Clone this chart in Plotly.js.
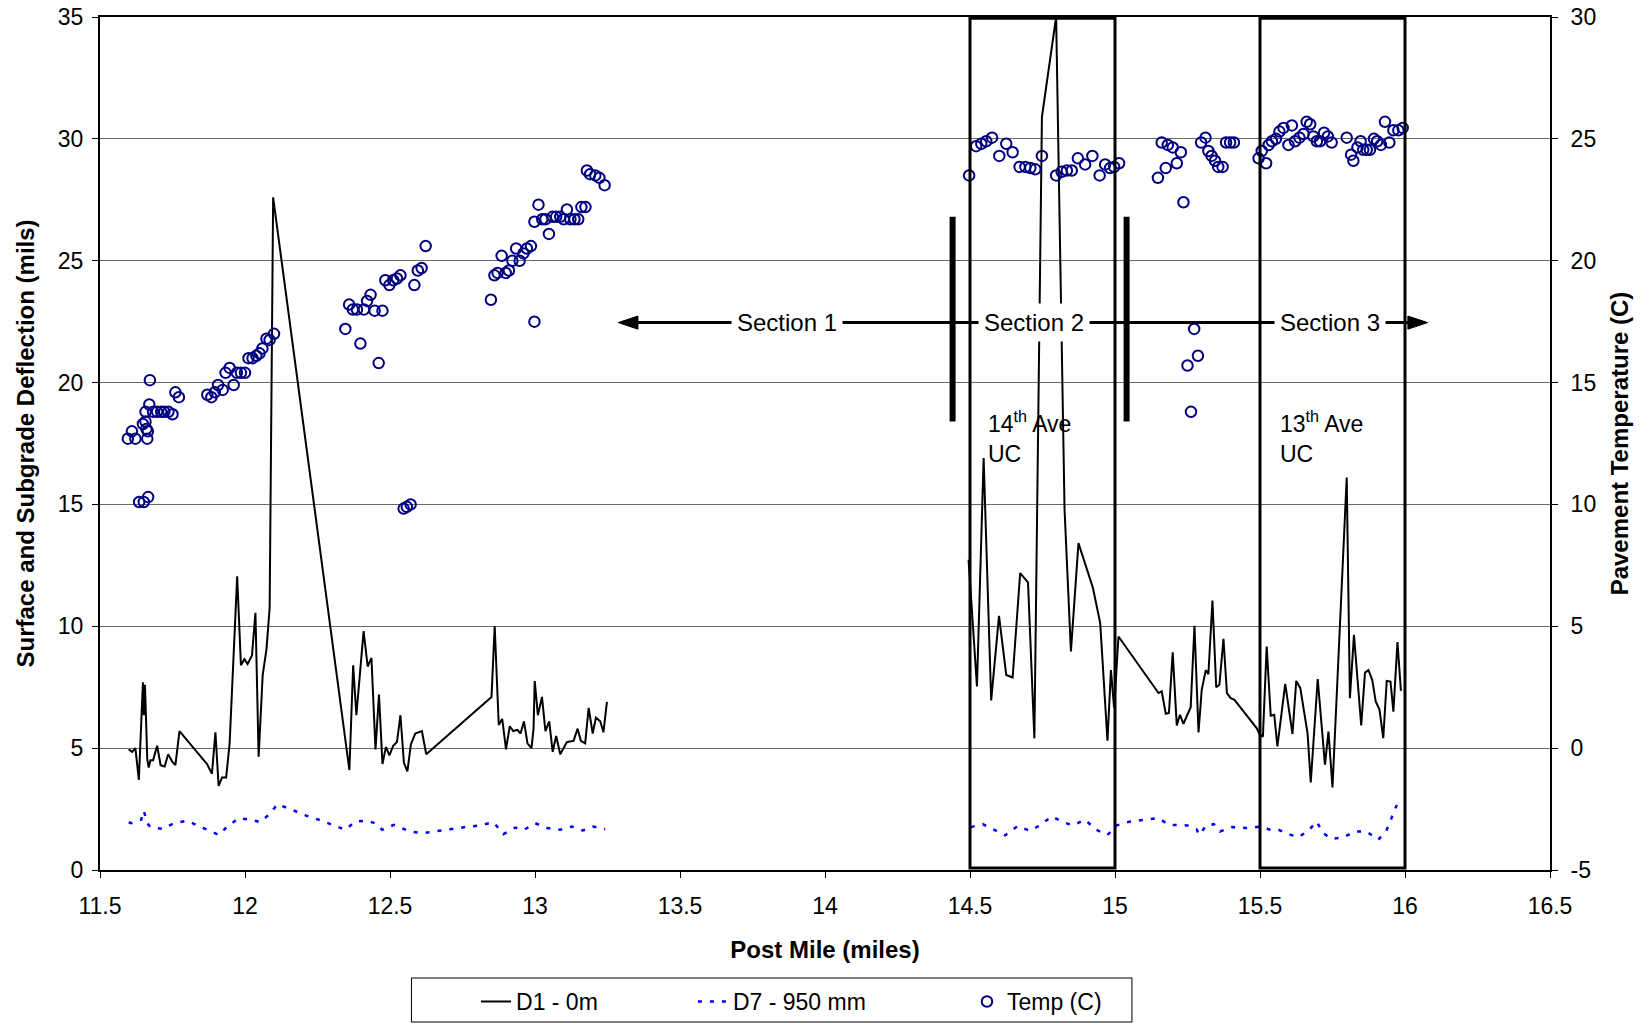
<!DOCTYPE html>
<html>
<head>
<meta charset="utf-8">
<script src="https://cdn.plot.ly/plotly-3.0.1.min.js"></script>
<style>html,body{margin:0;padding:0;background:#fff;}#chart{width:1642px;height:1023px;}</style>
</head>
<body>
<div id="chart"></div>
<script>
// D1 - 0m surface deflection (mils) vs post mile
const d1Mile = [11.599,11.611,11.622,11.634,11.648,11.651,11.655,11.663,11.668,11.674,11.683,11.697,11.709,11.723,11.735,11.749,11.760,11.774,11.869,11.886,11.898,11.909,11.921,11.935,11.947,11.973,11.986,11.998,12.009,12.024,12.036,12.047,12.061,12.074,12.085,12.097,12.360,12.373,12.384,12.409,12.423,12.436,12.450,12.462,12.474,12.486,12.498,12.511,12.524,12.536,12.548,12.560,12.572,12.587,12.610,12.625,12.850,12.861,12.875,12.887,12.900,12.913,12.925,12.939,12.950,12.962,12.974,12.988,12.995,12.999,13.010,13.024,13.036,13.049,13.061,13.073,13.087,13.110,13.133,13.147,13.158,13.173,13.185,13.199,13.210,13.225,13.236,13.248,
  13.8,
  14.495,14.524,14.547,14.573,14.600,14.625,14.647,14.673,14.700,14.722,14.748,14.797,14.826,14.848,14.874,14.924,14.949,14.974,14.986,14.997,15.012,15.150,15.161,15.175,15.186,15.199,15.213,15.224,15.236,15.261,15.274,15.288,15.299,15.313,15.322,15.336,15.349,15.360,15.374,15.386,15.399,15.412,15.489,15.498,15.510,15.523,15.537,15.549,15.560,15.587,15.612,15.625,15.639,15.653,15.664,15.675,15.699,15.724,15.736,15.750,15.799,15.810,15.824,15.849,15.862,15.874,15.887,15.899,15.912,15.925,15.937,15.950,15.960,15.974,15.986];
const d1Val = [4.95,4.85,5.0,3.7,7.7,6.35,7.6,4.55,4.2,4.5,4.5,5.1,4.3,4.25,4.75,4.45,4.3,5.7,4.35,3.95,5.65,3.45,3.8,3.8,5.2,12.05,8.4,8.65,8.45,8.8,10.55,4.65,8.0,9.05,10.75,27.6,4.1,8.4,6.35,9.8,8.35,8.7,4.95,7.2,4.35,5.05,4.7,5.1,5.25,6.35,4.4,4.05,5.15,5.6,5.7,4.75,7.1,10.0,5.95,6.2,4.95,5.9,5.7,5.75,5.6,6.1,5.2,5.0,5.8,7.75,6.35,7.1,5.7,6.1,4.85,5.5,4.75,5.25,5.3,5.8,5.3,5.2,6.65,5.6,6.25,6.1,5.65,6.9,
  null,
  12.73,7.53,16.9,6.96,10.43,8.0,7.9,12.18,11.8,5.4,30.9,35.0,14.8,8.97,13.41,11.57,10.13,5.31,8.2,6.64,9.58,7.26,7.33,6.41,6.44,8.93,5.93,6.37,6.0,6.68,10.02,5.64,7.39,8.2,8.03,11.06,7.5,7.6,9.49,7.26,7.05,6.98,5.81,5.58,5.47,9.17,6.33,6.37,5.07,7.64,5.58,7.76,7.46,6.37,5.61,3.59,7.83,4.32,5.68,3.39,16.1,7.05,9.65,5.93,8.1,8.2,7.8,6.92,6.58,5.41,7.76,7.73,6.5,9.35,7.35];

// D7 - 950 mm subgrade deflection (mils)
const d7Mile = [11.599,11.608,11.642,11.651,11.663,11.674,11.714,11.756,11.800,11.846,11.887,11.910,11.935,11.978,12.024,12.052,12.088,12.111,12.157,12.203,12.255,12.301,12.346,12.380,12.423,12.452,12.473,12.513,12.542,12.570,12.612,12.661,12.707,12.759,12.809,12.857,12.891,12.932,12.962,13.001,13.041,13.087,13.127,13.165,13.202,13.242,
  13.8,
  14.503,14.544,14.584,14.621,14.664,14.706,14.741,14.782,14.816,14.854,14.897,14.935,14.974,15.006,15.052,15.100,15.150,15.186,15.215,15.249,15.281,15.291,15.316,15.341,15.362,15.403,15.454,15.503,15.535,15.564,15.598,15.632,15.667,15.695,15.718,15.746,15.786,15.827,15.867,15.908,15.937,15.971,15.980];
const d7Val = [1.96,1.92,2.06,2.43,1.92,1.76,1.69,1.92,2.02,1.78,1.54,1.44,1.74,2.13,2.06,1.96,2.33,2.70,2.50,2.26,2.06,1.85,1.65,1.99,2.02,1.90,1.65,1.85,1.72,1.58,1.51,1.58,1.67,1.76,1.83,1.96,1.47,1.74,1.65,1.92,1.72,1.65,1.78,1.62,1.78,1.67,
  null,
  1.76,1.88,1.65,1.42,1.80,1.61,1.83,2.20,1.99,1.83,2.06,1.65,1.44,1.83,1.99,2.06,2.13,1.85,1.85,1.83,1.67,1.44,1.85,1.88,1.58,1.76,1.72,1.78,1.65,1.65,1.47,1.35,1.61,1.99,1.51,1.28,1.33,1.58,1.58,1.24,1.65,2.65,2.50];

// Pavement temperature (C)
const tempMile = [11.596,11.610,11.622,11.635,11.651,11.666,11.648,11.657,11.660,11.663,11.665,11.657,11.670,11.672,11.683,11.697,11.711,11.722,11.736,11.750,11.760,11.772,11.870,11.884,11.896,11.907,11.923,11.933,11.947,11.961,11.972,11.986,12.000,12.012,12.026,12.039,12.050,12.060,12.074,12.085,12.100,
  12.346,12.359,12.372,12.386,12.398,12.410,12.421,12.433,12.447,12.461,12.474,12.484,12.498,12.511,12.524,12.536,12.547,12.558,12.571,12.584,12.596,12.609,12.623,
  12.848,12.860,12.871,12.885,12.899,12.910,12.922,12.935,12.947,12.960,12.972,12.986,12.998,12.998,13.012,13.025,13.036,13.048,13.061,13.073,13.087,13.099,13.110,13.122,13.136,13.149,13.160,13.174,13.179,13.190,13.208,13.222,13.240,
  14.497,14.521,14.539,14.556,14.576,14.601,14.625,14.647,14.671,14.691,14.708,14.725,14.748,14.797,14.816,14.834,14.851,14.872,14.897,14.922,14.947,14.966,14.983,14.997,15.014,
  15.148,15.161,15.175,15.182,15.199,15.213,15.227,15.236,15.250,15.262,15.273,15.286,15.297,15.312,15.322,15.333,15.345,15.356,15.371,15.383,15.397,15.410,
  15.495,15.506,15.521,15.530,15.541,15.555,15.567,15.581,15.598,15.610,15.621,15.636,15.650,15.661,15.673,15.684,15.696,15.707,15.721,15.734,15.747,15.799,15.814,15.822,15.836,15.847,15.856,15.868,15.879,15.893,15.904,15.917,15.931,15.946,15.960,15.977,15.992];
const tempVal = [12.7,13.0,12.7,10.1,10.1,10.3,13.3,13.4,13.1,12.7,13.0,13.8,14.1,15.1,13.8,13.8,13.8,13.8,13.8,13.7,14.6,14.4,14.5,14.4,14.6,14.9,14.7,15.4,15.6,14.9,15.4,15.4,15.4,16.0,16.0,16.1,16.2,16.4,16.8,16.75,17.0,
  17.2,18.2,18.0,18.0,16.6,18.0,18.35,18.6,17.95,15.8,17.95,19.2,19.0,19.2,19.27,19.4,9.83,9.9,10.0,19.0,19.6,19.7,20.6,
  18.4,19.4,19.5,20.2,19.5,19.6,20.0,20.5,20.0,20.3,20.5,20.6,17.5,21.6,22.3,21.7,21.7,21.1,21.8,21.8,21.8,21.7,22.1,21.7,21.7,21.7,22.2,22.2,23.7,23.55,23.5,23.4,23.1,
  23.5,24.7,24.8,24.9,25.05,24.3,24.8,24.45,23.85,23.85,23.8,23.75,24.3,23.5,23.65,23.7,23.7,24.2,23.95,24.3,23.5,23.95,23.8,23.85,24.0,
  23.4,24.85,23.8,24.75,24.65,24.0,24.45,22.4,15.7,13.8,17.2,16.1,24.85,25.05,24.5,24.3,24.1,23.85,23.85,24.85,24.85,24.85,
  24.2,24.5,24.0,24.75,24.9,25.0,25.3,25.45,24.75,25.55,24.9,25.05,25.2,25.7,25.6,25.1,24.9,24.9,25.25,25.1,24.85,25.05,24.35,24.1,24.65,24.9,24.55,24.55,24.55,25.0,24.9,24.75,25.7,24.85,25.35,25.35,25.45];

const xTicks = [11.5,12,12.5,13,13.5,14,14.5,15,15.5,16,16.5];
const xTickText = ['11.5','12','12.5','13','13.5','14','14.5','15','15.5','16','16.5'];
const yTicks = [0,5,10,15,20,25,30,35];
const y2Ticks = [-5,0,5,10,15,20,25,30];
const y2TickText = ['-5','0','5','10','15','20','25','30'];

// section annotations
const sectionBoxes = [[14.5,15.0],[15.5,16.0]];
const sectionBars = [14.44,15.04];
const sectionLabels = [['Section 1',13.868],['Section 2',14.722],['Section 3',15.742]];
const sectionY = 22.46;
const arrowTips = [[13.287,1],[16.078,-1]];   // tip position, pointing direction (+1 = left)
const arrowLen = 0.068, arrowHalf = 0.27;
const ucLabels = [['14<sup>th</sup> Ave<br>UC',14.555],['13<sup>th</sup> Ave<br>UC',15.562]];

const FONT = 'Arial, "Liberation Sans", sans-serif';

const traces = [
  {x:d1Mile, y:d1Val, name:'D1 - 0m', type:'scatter', mode:'lines', connectgaps:false, legend:'legend',
   line:{color:'#000000', width:2}},
  {x:d7Mile, y:d7Val, name:'D7 - 950 mm', type:'scatter', mode:'lines', connectgaps:false, legend:'legend2',
   line:{color:'#0000ff', width:2.5, dash:'4px,8px'}},
  {x:tempMile, y:tempVal, name:'Temp (C)', type:'scatter', mode:'markers', yaxis:'y2', legend:'legend3',
   marker:{symbol:'circle-open', size:10.5, color:'#000080', line:{width:2, color:'#000080'}}}
];

const shapes = [];
sectionBoxes.forEach(b => shapes.push({type:'rect', xref:'x', yref:'y', x0:b[0], x1:b[1], y0:0.08, y1:34.95,
  line:{color:'#000', width:3}, layer:'above'}));
sectionBars.forEach(x => shapes.push({type:'line', xref:'x', yref:'y', x0:x, x1:x, y0:18.4, y1:26.8,
  line:{color:'#000', width:6}, layer:'above'}));
shapes.push({type:'line', xref:'x', yref:'y', x0:13.33, x1:16.03, y0:sectionY, y1:sectionY,
  line:{color:'#000', width:3}, layer:'above'});
arrowTips.forEach(a => {
  const bx = a[0] + a[1]*arrowLen;
  shapes.push({type:'path', xref:'x', yref:'y', layer:'above',
    path:'M'+a[0]+','+sectionY+' L'+bx+','+(sectionY+arrowHalf)+' L'+bx+','+(sectionY-arrowHalf)+' Z',
    fillcolor:'#000', line:{color:'#000', width:1}});
});
// legend frame
shapes.push({type:'rect', xref:'paper', yref:'paper', x0:0.2148, x1:0.7117, y0:-0.1782, y1:-0.1266,
  line:{color:'#000', width:1}, fillcolor:'rgba(0,0,0,0)', layer:'above'});

const annotations = [];
sectionLabels.forEach(s => annotations.push({x:s[1], y:sectionY, xref:'x', yref:'y', text:s[0], showarrow:false,
  font:{family:FONT, size:24, color:'#000'}, bgcolor:'#ffffff', borderpad:5}));
ucLabels.forEach(s => annotations.push({x:s[1], y:19.1, xref:'x', yref:'y', text:s[0], showarrow:false,
  xanchor:'left', yanchor:'top', align:'left', font:{family:FONT, size:23, color:'#000'}}));

function legendAt(x) {
  return {orientation:'h', xref:'container', yref:'container', x:x, xanchor:'left', y:0.042, yanchor:'top',
    bgcolor:'rgba(0,0,0,0)', borderwidth:0, font:{family:FONT, size:23}};
}

const layout = {
  width:1642, height:1023,
  margin:{l:100, r:92, t:17, b:153},
  paper_bgcolor:'#fff', plot_bgcolor:'#fff',
  font:{family:FONT, size:23, color:'#000'},
  showlegend:true,
  hovermode:false,
  xaxis:{range:[11.5,16.5], tickvals:xTicks, ticktext:xTickText, showgrid:false, zeroline:false,
    showline:true, linecolor:'#000', linewidth:2, mirror:true, ticks:'outside', ticklen:6, tickcolor:'#000',
    ticklabelstandoff:8, tickfont:{family:FONT, size:23},
    title:{text:'<b>Post Mile (miles)</b>', font:{family:FONT, size:24}, standoff:24}},
  yaxis:{range:[0,35], tickvals:yTicks, showgrid:true, gridcolor:'#6b6b6b', gridwidth:1, zeroline:false,
    showline:true, linecolor:'#000', linewidth:2, mirror:false, ticks:'outside', ticklen:6, tickcolor:'#000',
    ticklabelstandoff:4, tickfont:{family:FONT, size:23},
    title:{text:'<b>Surface and Subgrade Deflection (mils)</b>', font:{family:FONT, size:24}, standoff:16}},
  yaxis2:{range:[-5,30], overlaying:'y', side:'right', tickvals:y2Ticks, ticktext:y2TickText, showgrid:false,
    zeroline:false, showline:true, linecolor:'#000', linewidth:2, ticks:'outside', ticklen:6, tickcolor:'#000',
    ticklabelstandoff:8, tickfont:{family:FONT, size:23},
    title:{text:'<b>Pavement Temperature (C)</b>', font:{family:FONT, size:24}, standoff:16}},
  legend:legendAt(0.2899),
  legend2:legendAt(0.4220),
  legend3:legendAt(0.5889),
  shapes:shapes,
  annotations:annotations
};

Plotly.newPlot('chart', traces, layout, {displayModeBar:false, staticPlot:true});
</script>
</body>
</html>
